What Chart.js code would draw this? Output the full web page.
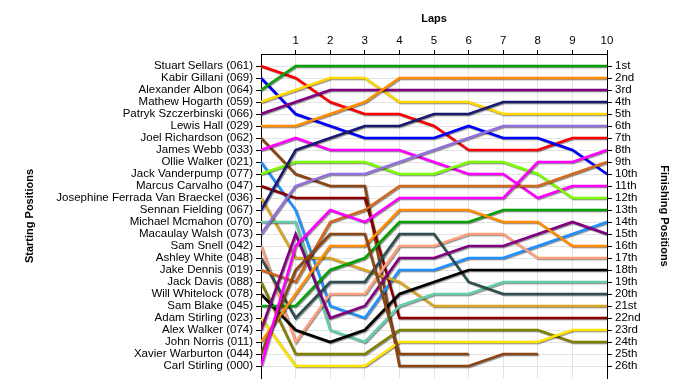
<!DOCTYPE html>
<html><head><meta charset="utf-8">
<script src="https://cdn.jsdelivr.net/npm/chart.js@4"></script>
<style>html,body{margin:0;padding:0;background:#fff}#wrap{width:700px;height:390px}</style>
</head><body><div id="wrap"><canvas id="c" width="700" height="390"></canvas></div>
<script>
const laps = [0,1,2,3,4,5,6,7,8,9,10];
const lapLabels = ['1','2','3','4','5','6','7','8','9','10'];
const drivers = ['Stuart Sellars (061)','Kabir Gillani (069)','Alexander Albon (064)','Mathew Hogarth (059)','Patryk Szczerbinski (066)','Lewis Hall (029)','Joel Richardson (062)','James Webb (033)','Ollie Walker (021)','Jack Vanderpump (077)','Marcus Carvalho (047)','Josephine Ferrada Van Braeckel (036)','Sennan Fielding (067)','Michael Mcmahon (070)','Macaulay Walsh (073)','Sam Snell (042)','Ashley White (048)','Jake Dennis (019)','Jack Davis (088)','Will Whitelock (078)','Sam Blake (045)','Adam Stirling (023)','Alex Walker (074)','John Norris (011)','Xavier Warburton (044)','Carl Stirling (000)'];
const finishLabels = ['1st','2nd','3rd','4th','5th','6th','7th','8th','9th','10th','11th','12th','13th','14th','15th','16th','17th','18th','19th','20th','21st','22nd','23rd','24th','25th','26th'];

// position of each driver at laps 0..10 (null = retired)
const stuartSellars   = [1,2,4,5,5,6,8,8,8,7,7];
const kabirGillani    = [2,5,6,7,7,7,6,7,7,8,10];
const alexanderAlbon  = [3,1,1,1,1,1,1,1,1,1,1];
const mathewHogarth   = [4,3,2,2,4,4,4,5,5,5,5];
const patrykSz        = [5,4,3,3,3,3,3,3,3,3,3];
const lewisHall       = [6,6,5,4,2,2,2,2,2,2,2];
const joelRichardson  = [7,10,11,11,26,26,26,25,25,null,null];
const jamesWebb       = [8,7,8,8,8,9,10,10,12,11,11];
const ollieWalker     = [9,13,21,22,18,18,17,17,16,15,14];
const jackVanderpump  = [10,9,9,9,10,10,9,9,10,12,12];
const marcusCarvalho  = [11,12,12,12,22,22,22,22,22,22,22];
const josephine       = [12,17,17,18,19,21,21,21,21,21,21];
const sennanFielding  = [13,8,7,6,6,5,5,4,4,4,4];
const michaelMcmahon  = [14,14,23,24,21,20,20,19,19,19,19];
const macaulayWalsh   = [15,11,10,10,9,8,7,6,6,6,6];
const samSnell        = [16,24,20,20,16,16,15,15,17,17,17];
const ashleyWhite     = [17,22,19,19,15,15,19,20,20,20,20];
const jakeDennis      = [18,19,14,13,11,11,11,11,11,10,9];
const jackDavis       = [19,25,25,25,23,23,23,23,23,24,24];
const willWhitelock   = [20,23,24,23,20,19,18,18,18,18,18];
const samBlake        = [21,21,18,17,14,14,14,13,13,13,13];
const adamStirling    = [22,26,26,26,24,24,24,24,24,23,23];
const alexWalker      = [23,15,22,21,17,17,16,16,15,14,15];
const johnNorris      = [24,20,16,16,13,13,13,14,14,16,16];
const xavierWarburton = [25,18,15,15,25,25,25,null,null,null,null];
const carlStirling    = [26,16,13,14,12,12,12,12,9,9,8];

const series = [stuartSellars,kabirGillani,alexanderAlbon,mathewHogarth,patrykSz,lewisHall,joelRichardson,jamesWebb,ollieWalker,jackVanderpump,marcusCarvalho,josephine,sennanFielding,michaelMcmahon,macaulayWalsh,samSnell,ashleyWhite,jakeDennis,jackDavis,willWhitelock,samBlake,adamStirling,alexWalker,johnNorris,xavierWarburton,carlStirling];
const colors = ['#FF0000','#0000FF','#07A007','#FFD700','#800080','#FF8C00','#8B4513','#FF00FF','#1E90FF','#7CFC00','#8B0000','#DAA520','#191970','#66CDAA','#9370DB','#FFA07A','#2F4F4F','#D2691E','#808000','#000000','#07A007','#FFE400','#800080','#FF8C00','#8B4513','#FF00FF'];

const datasets = series.map((s,i)=>({
  label: drivers[i],
  data: laps.map((l,k)=>({x:l,y:s[k]})),
  borderColor: colors[i],
  backgroundColor: colors[i],
  borderWidth: 2.6,
  pointRadius: 0,
  tension: 0,
  spanGaps: false,
  order: series.length - i
}));

const bg = {id:'bg', beforeDraw(c){const x=c.ctx; x.save(); x.fillStyle='#fff'; x.fillRect(0,0,c.width,c.height); x.restore();}};
const shadow = {id:'shadow',
  beforeDatasetsDraw(c){const x=c.ctx; x.save(); x.shadowColor='rgba(0,0,0,0.45)'; x.shadowOffsetX=1; x.shadowOffsetY=1; x.shadowBlur=1;},
  afterDatasetsDraw(c){c.ctx.restore();}};

const FONT = "'Liberation Sans', Arial, sans-serif";
const gridCol = '#e4e4e4';

new Chart(document.getElementById('c'), {
  type: 'line',
  data: { datasets },
  options: {
    responsive: false,
    animation: false,
    devicePixelRatio: 1,
    layout: { padding: { left: 0, right: 0, top: 0, bottom: 12 } },
    plugins: { legend: { display: false }, tooltip: { enabled: false } },
    scales: {
      x: {
        type: 'linear', position: 'top', min: 0, max: 10,
        afterBuildTicks: s => { s.ticks = laps.filter(l=>l>0).map(v=>({value:v})); },
        afterFit: s => { s.height = 54; },
        ticks: { callback: v => lapLabels[v-1], color: '#000', font: { family: FONT, size: 11.5 }, padding: 2, maxRotation: 0 },
        grid: { color: gridCol, tickColor: '#000', tickLength: 4 },
        border: { color: '#000', width: 1 },
        title: { display: true, text: 'Laps', color: '#000', font: { family: FONT, size: 11, weight: 'bold' }, padding: { top: 12, bottom: 0 } }
      },
      y: {
        type: 'linear', position: 'left', reverse: true, min: 0, max: 27,
        afterBuildTicks: s => { s.ticks = drivers.map((d,i)=>({value:i+1})); },
        afterFit: s => { s.width = 261; },
        ticks: { callback: v => drivers[v-1], color: '#000', font: { family: FONT, size: 11.5 }, padding: 3, autoSkip: false },
        grid: { color: gridCol, tickColor: '#000', tickLength: 5 },
        border: { color: '#000', width: 1 },
        title: { display: true, text: 'Starting Positions', color: '#000', font: { family: FONT, size: 11, weight: 'bold' }, padding: { top: 23, bottom: 0 } }
      },
      y2: {
        type: 'linear', position: 'right', reverse: true, min: 0, max: 27,
        afterBuildTicks: s => { s.ticks = finishLabels.map((d,i)=>({value:i+1})); },
        afterFit: s => { s.width = 93; },
        ticks: { callback: v => finishLabels[v-1], color: '#000', font: { family: FONT, size: 11.5 }, padding: 3, autoSkip: false },
        grid: { drawOnChartArea: false, tickColor: '#000', tickLength: 5 },
        border: { color: '#000', width: 1 },
        title: { display: true, text: 'Finishing Positions', color: '#000', font: { family: FONT, size: 11, weight: 'bold' }, padding: { top: 29, bottom: 0 } }
      }
    }
  },
  plugins: [bg, shadow]
});
</script>
</body></html>
